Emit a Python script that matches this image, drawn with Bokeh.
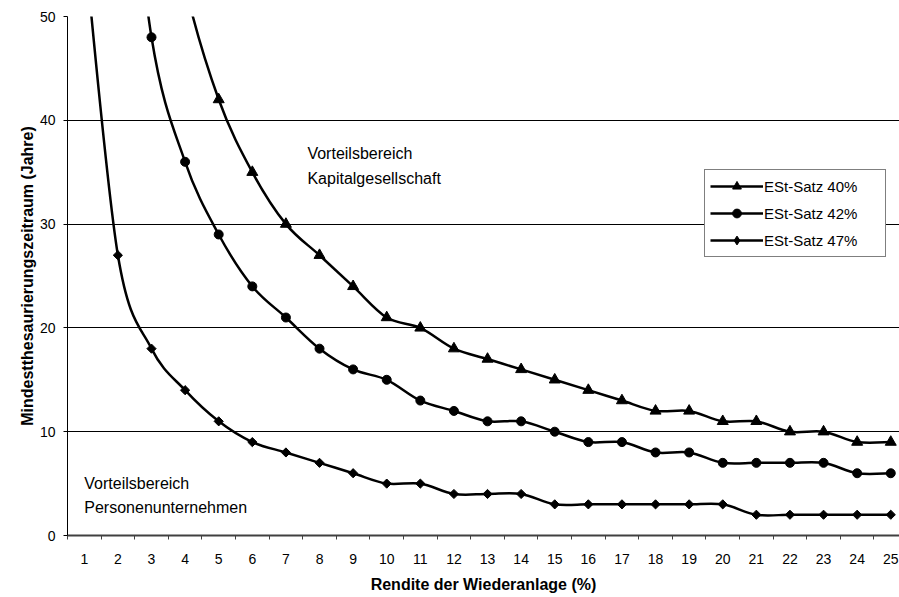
import numpy as np
from bokeh.plotting import figure
from bokeh.models import Range1d, FixedTicker, Legend, LegendItem, Label
from bokeh.embed import file_html
from bokeh.resources import INLINE

# Rendite der Wiederanlage (%) on the category axis
rendite = [1, 2, 3, 4, 5, 6, 7, 8, 9, 10, 11, 12, 13, 14, 15, 16, 17, 18, 19, 20, 21, 22, 23, 24, 25]

# Mindestthesaurierungszeitraum in Jahren per Steuersatz (None = no value)
satz_40 = [None, None, 70, 53, 42, 35, 30, 27, 24, 21, 20, 18, 17, 16, 15, 14, 13, 12, 12, 11, 11, 10, 10, 9, 9]
satz_42 = [None, 76, 48, 36, 29, 24, 21, 18, 16, 15, 13, 12, 11, 11, 10, 9, 9, 8, 8, 7, 7, 7, 7, 6, 6]
satz_47 = [57, 27, 18, 14, 11, 9, 8, 7, 6, 5, 5, 4, 4, 4, 3, 3, 3, 3, 3, 3, 2, 2, 2, 2, 2]

series_labels = ["ESt-Satz 40%", "ESt-Satz 42%", "ESt-Satz 47%"]
y_ticks = [0, 10, 20, 30, 40, 50]

FONT = "Liberation Sans"


def smooth_segments(xs, ys):
    """Cubic Bezier segments (Catmull-Rom style) through the given points."""
    pts = [(x, y) for x, y in zip(xs, ys) if y is not None]
    x = np.array([p[0] for p in pts], dtype=float)
    y = np.array([p[1] for p in pts], dtype=float)
    n = len(x)
    xp = np.concatenate([[x[0]], x, [x[-1]]])
    yp = np.concatenate([[y[0]], y, [y[-1]]])
    return dict(
        x0=x[:-1], y0=y[:-1], x1=x[1:], y1=y[1:],
        cx0=x[:-1] + (xp[2:n + 1] - xp[0:n - 1]) / 6.0,
        cy0=y[:-1] + (yp[2:n + 1] - yp[0:n - 1]) / 6.0,
        cx1=x[1:] - (xp[3:n + 2] - xp[1:n]) / 6.0,
        cy1=y[1:] - (yp[3:n + 2] - yp[1:n]) / 6.0,
    )


p = figure(
    width=899, height=597,
    output_backend="svg", toolbar_location=None, title=None,
    x_range=Range1d(0.5, 25.26), y_range=Range1d(0, 50),
    min_border_left=67, min_border_right=0, min_border_top=16, min_border_bottom=62,
)
p.outline_line_color = None
p.background_fill_color = "white"
p.border_fill_color = "white"

# y axis
p.yaxis.ticker = FixedTicker(ticks=y_ticks)
p.yaxis.axis_line_color = "black"
p.yaxis.major_tick_line_color = "black"
p.yaxis.major_tick_out = 4
p.yaxis.major_tick_in = 0
p.yaxis.minor_tick_line_color = None
p.yaxis.major_label_text_font = FONT
p.yaxis.major_label_text_font_size = "14px"
p.yaxis.major_label_text_color = "black"
p.yaxis.major_label_standoff = 8
p.yaxis.axis_label = "Mindestthesaurierungszeitraum (Jahre)"
p.yaxis.axis_label_text_font = FONT
p.yaxis.axis_label_text_font_size = "16px"
p.yaxis.axis_label_text_font_style = "bold"
p.yaxis.axis_label_text_color = "black"
p.yaxis.axis_label_standoff = 1

# x axis: labels at category centres, tick marks between categories
boundaries = [i + 0.5 for i in range(0, 26)]
p.xaxis.ticker = FixedTicker(ticks=rendite, minor_ticks=boundaries)
p.xaxis.axis_line_color = "#404040"
p.xaxis.axis_line_width = 2
p.xaxis.major_tick_out = 0
p.xaxis.major_tick_in = 0
p.xaxis.major_tick_line_color = None
p.xaxis.minor_tick_out = 4
p.xaxis.minor_tick_in = 0
p.xaxis.minor_tick_line_color = "#404040"
p.xaxis.major_label_text_font = FONT
p.xaxis.major_label_text_font_size = "14px"
p.xaxis.major_label_text_color = "black"
p.xaxis.major_label_standoff = 14
p.xaxis.axis_label = "Rendite der Wiederanlage (%)"
p.xaxis.axis_label_text_font = FONT
p.xaxis.axis_label_text_font_size = "16px"
p.xaxis.axis_label_text_font_style = "bold"
p.xaxis.axis_label_text_color = "black"
p.xaxis.axis_label_standoff = 9

p.xgrid.visible = False
p.ygrid.ticker = FixedTicker(ticks=y_ticks)
p.ygrid.grid_line_color = "black"
p.ygrid.grid_line_width = 1

# series: smoothed line plus markers
markers = [
    dict(marker="triangle", size=11, angle=0.0, key="triangle"),
    dict(marker="circle", size=9, angle=0.0, key="circle"),
    dict(marker="square", size=6.5, angle=np.pi / 4, key="diamond"),
]
items = []
for values, label, mk in zip([satz_40, satz_42, satz_47], series_labels, markers):
    seg = smooth_segments(rendite, values)
    bez = p.bezier(line_color="black", line_width=2.5, **seg)
    xs = [x for x, v in zip(rendite, values) if v is not None]
    ys = [v for v in values if v is not None]
    p.scatter(xs, ys, marker=mk["marker"], size=mk["size"], angle=mk["angle"],
              fill_color="black", line_color="black")
    # hidden twin used only for the legend swatch (legend markers are drawn unrotated)
    swatch = p.scatter(xs, ys, marker=mk["key"], fill_color="black", line_color="black",
                       visible=False)
    items.append(LegendItem(label=label, renderers=[bez, swatch]))

legend = Legend(
    items=items, location=(637, 278), margin=0,
    padding=5, spacing=5, glyph_width=53, glyph_height=22,
    label_height=22, label_width=116, label_standoff=1,
    label_text_font=FONT, label_text_font_size="15px", label_text_color="black",
    border_line_color="black", border_line_width=1,
    background_fill_color="white", background_fill_alpha=1.0,
)
p.add_layout(legend)

# region annotations
text_style = dict(text_font=FONT, text_font_size="16px", text_color="black",
                  text_baseline="alphabetic", text_align="left")
p.add_layout(Label(x=7.64, y=36.8, text="Vorteilsbereich", **text_style))
p.add_layout(Label(x=7.64, y=34.4, text="Kapitalgesellschaft", **text_style))
p.add_layout(Label(x=1.0, y=5.0, text="Vorteilsbereich", **text_style))
p.add_layout(Label(x=1.0, y=2.7, text="Personenunternehmen", **text_style))

open("out.html", "w").write(file_html(p, INLINE))
